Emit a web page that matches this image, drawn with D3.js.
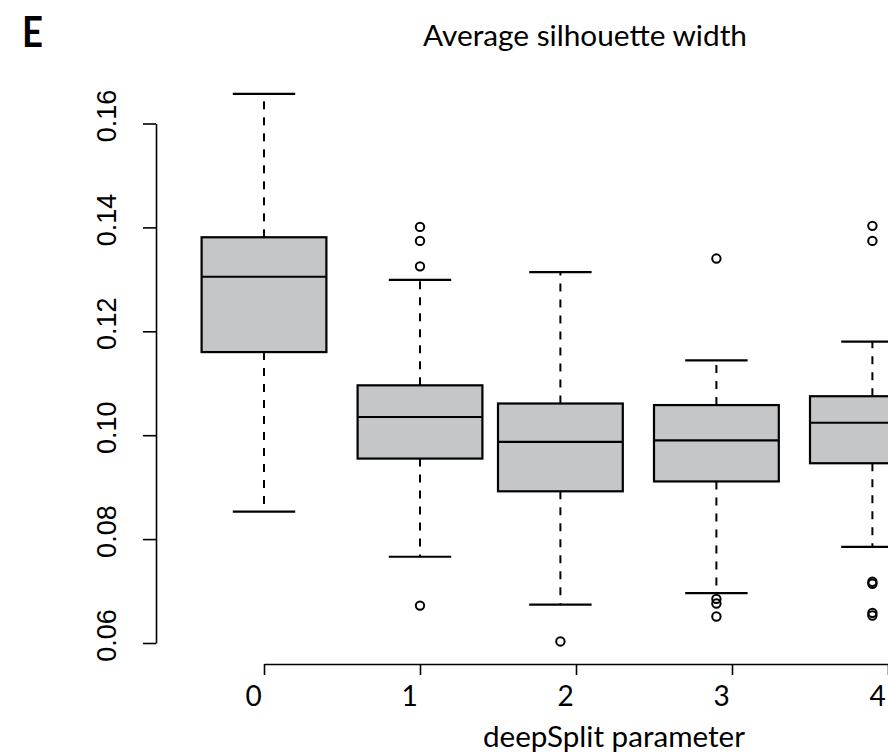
<!DOCTYPE html>
<html>
<head>
<meta charset="utf-8">
<script src="https://cdn.jsdelivr.net/npm/d3@7/dist/d3.min.js"></script>
<style>
  html, body { margin: 0; padding: 0; background: #ffffff; }
  svg { display: block; }
</style>
</head>
<body>
<script>
// deepSplit settings and where each box sits along the axis
const groups = ["0", "1", "2", "3", "4"];
const boxAt = [0, 1, 1.9, 2.9, 3.9];

// five-number summaries of average silhouette width per deepSplit value
const lowerWhisker = [0.0853, 0.0766, 0.0674, 0.0696, 0.0785];
const q1           = [0.1160, 0.0955, 0.0892, 0.0911, 0.0946];
const median       = [0.1305, 0.1035, 0.0987, 0.0990, 0.1024];
const q3           = [0.1381, 0.1096, 0.1061, 0.1058, 0.1075];
const upperWhisker = [0.1657, 0.1299, 0.1314, 0.1144, 0.1180];
const outliers = [
  [],
  [0.1401, 0.1374, 0.1325, 0.0672],
  [0.0603],
  [0.1340, 0.0685, 0.0676, 0.0651],
  [0.1403, 0.1374, 0.0718, 0.0714, 0.0658, 0.0653]
];

// axis ticks
const yTicks = [0.06, 0.08, 0.10, 0.12, 0.14, 0.16];
const xTicks = [0, 1, 2, 3, 4];

const W = 888, H = 756;
const svg = d3.select("body").append("svg")
  .attr("width", W).attr("height", H)
  .attr("viewBox", `0 0 ${W} ${H}`);
svg.append("rect").attr("width", W).attr("height", H).attr("fill", "#ffffff");

const x = d3.scaleLinear().domain([0, 4]).range([264, 888]);
const y = d3.scaleLinear().domain([0.06, 0.16]).range([643, 123.5]);

const boxHalf = 0.4, capHalf = 0.2;
const fill = "#c5c6c8";

const boxes = groups.map((g, i) => ({
  g, pos: boxAt[i],
  lo: lowerWhisker[i], q1: q1[i], med: median[i], q3: q3[i], hi: upperWhisker[i],
  out: outliers[i]
}));

const gBox = svg.append("g");
const b = gBox.selectAll("g.box").data(boxes).join("g").attr("class", "box");

// dashed whiskers from box edges to the caps
b.append("line")
  .attr("x1", d => x(d.pos)).attr("x2", d => x(d.pos))
  .attr("y1", d => y(d.q3)).attr("y2", d => y(d.hi))
  .attr("stroke", "#000").attr("stroke-width", 2).attr("stroke-dasharray", "8,8");
b.append("line")
  .attr("x1", d => x(d.pos)).attr("x2", d => x(d.pos))
  .attr("y1", d => y(d.q1)).attr("y2", d => y(d.lo))
  .attr("stroke", "#000").attr("stroke-width", 2).attr("stroke-dasharray", "8,8");

// whisker caps
["hi", "lo"].forEach(k => {
  b.append("line")
    .attr("x1", d => x(d.pos - capHalf)).attr("x2", d => x(d.pos + capHalf))
    .attr("y1", d => y(d[k])).attr("y2", d => y(d[k]))
    .attr("stroke", "#000").attr("stroke-width", 2.2);
});

// interquartile boxes
b.append("rect")
  .attr("x", d => x(d.pos - boxHalf))
  .attr("width", d => x(d.pos + boxHalf) - x(d.pos - boxHalf))
  .attr("y", d => y(d.q3))
  .attr("height", d => y(d.q1) - y(d.q3))
  .attr("fill", fill).attr("stroke", "#000").attr("stroke-width", 2.2);

// medians
b.append("line")
  .attr("x1", d => x(d.pos - boxHalf)).attr("x2", d => x(d.pos + boxHalf))
  .attr("y1", d => y(d.med)).attr("y2", d => y(d.med))
  .attr("stroke", "#000").attr("stroke-width", 2.2);

// outlying points
b.selectAll("circle")
  .data(d => d.out.map(v => ({ pos: d.pos, v })))
  .join("circle")
  .attr("cx", d => x(d.pos)).attr("cy", d => y(d.v))
  .attr("r", 4.2)
  .attr("fill", "none").attr("stroke", "#000").attr("stroke-width", 2);

// left axis
const yAxis = d3.axisLeft(y).tickValues(yTicks).tickSize(13).tickSizeOuter(0)
  .tickFormat(d3.format(".2f"));
const gy = svg.append("g").attr("transform", "translate(156,0)").call(yAxis);
gy.select(".domain").attr("stroke", "#000").attr("stroke-width", 1.6);
gy.selectAll(".tick line").attr("stroke", "#000").attr("stroke-width", 1.6);
gy.selectAll(".tick text")
  .attr("font-family", "'Liberation Sans', Arial, sans-serif")
  .attr("font-size", 27)
  .attr("fill", "#000")
  .attr("text-anchor", "middle")
  .attr("dy", null)
  .attr("x", null)
  .attr("transform", "translate(-40,-8) rotate(-90)")
  .attr("y", 0);

// bottom axis
const xAxis = d3.axisBottom(x).tickValues(xTicks).tickSize(11).tickSizeOuter(0)
  .tickFormat(d3.format("d"));
const gx = svg.append("g").attr("transform", "translate(0,664)").call(xAxis);
gx.select(".domain").attr("stroke", "#000").attr("stroke-width", 1.6);
gx.selectAll(".tick line").attr("stroke", "#000").attr("stroke-width", 1.6);
gx.selectAll(".tick text")
  .attr("font-family", "Lato, 'Open Sans', sans-serif")
  .attr("font-size", 28)
  .attr("fill", "#000")
  .attr("dy", null)
  .attr("y", 42)
  .attr("x", -11);

// titles
svg.append("text")
  .attr("x", 22).attr("y", 47)
  .attr("font-family", "Lato, 'Open Sans', sans-serif")
  .attr("font-weight", 700)
  .attr("font-size", 42)
  .attr("textLength", 21).attr("lengthAdjust", "spacingAndGlyphs")
  .text("E");

svg.append("text")
  .attr("x", 423).attr("y", 46)
  .attr("font-family", "Lato, 'Open Sans', sans-serif")
  .attr("font-size", 29)
  .attr("textLength", 324).attr("lengthAdjust", "spacingAndGlyphs")
  .text("Average silhouette width");

svg.append("text")
  .attr("x", 483).attr("y", 747)
  .attr("font-family", "Lato, 'Open Sans', sans-serif")
  .attr("font-size", 28)
  .attr("textLength", 262).attr("lengthAdjust", "spacingAndGlyphs")
  .text("deepSplit parameter");
</script>
</body>
</html>
